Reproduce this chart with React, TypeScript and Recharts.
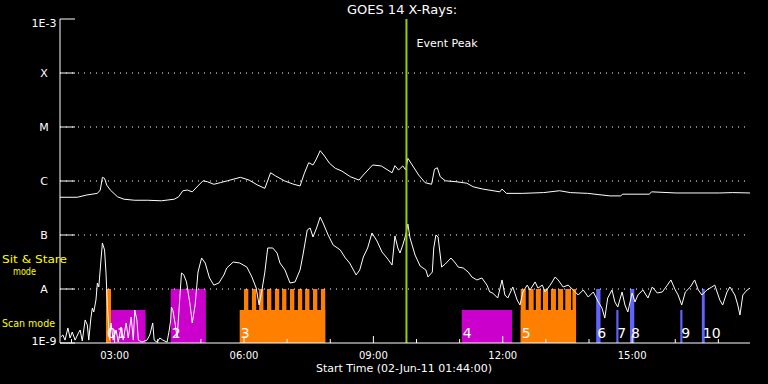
import { ComposedChart, Line, XAxis, YAxis, ReferenceLine, ReferenceArea } from 'recharts';

// GOES 14 long channel (1-8 A), minutes after 01:44 UT, W/m2
const longTimes = [0, 24, 37, 52, 56, 59, 62, 65, 70, 80, 89, 104, 122, 141, 159, 165, 171, 177, 184, 193, 199, 205, 214, 223, 233, 251, 263, 275, 285, 293, 300, 312, 324, 334, 340, 346, 352, 356, 362, 367, 375, 383, 392, 404, 416, 422, 435, 447, 462, 466, 471, 477, 481, 484, 490, 499, 508, 517, 521, 525, 529, 536, 551, 566, 575, 588, 612, 615, 621, 643, 673, 695, 710, 734, 765, 780, 783, 820, 823, 857, 918, 936, 960];
const longFlux = [5.0e-7, 5.0e-7, 5.5e-7, 5.9e-7, 6.8e-7, 1.17e-6, 1.12e-6, 8.4e-7, 6.8e-7, 5.1e-7, 4.6e-7, 4.4e-7, 4.4e-7, 4.3e-7, 4.6e-7, 5.1e-7, 6.6e-7, 6.8e-7, 6.3e-7, 8.4e-7, 1.01e-6, 9.7e-7, 8.7e-7, 9.3e-7, 1.01e-6, 1.17e-6, 1.04e-6, 8.4e-7, 7.3e-7, 1.42e-6, 1.24e-6, 1.01e-6, 8.8e-7, 8.1e-7, 1.39e-6, 2.18e-6, 1.98e-6, 2.45e-6, 3.64e-6, 3.03e-6, 2.13e-6, 1.72e-6, 1.53e-6, 1.2e-6, 1.04e-6, 1.29e-6, 1.98e-6, 1.9e-6, 1.42e-6, 1.92e-6, 1.6e-6, 1.9e-6, 1.6e-6, 2.63e-6, 1.98e-6, 1.29e-6, 9.3e-7, 8.7e-7, 1.65e-6, 1.76e-6, 1.2e-6, 1.01e-6, 9.7e-7, 9.1e-7, 7.8e-7, 7.1e-7, 6.3e-7, 7.1e-7, 5.9e-7, 5.9e-7, 6.1e-7, 6.6e-7, 6.1e-7, 5.9e-7, 5.3e-7, 5.3e-7, 5.7e-7, 5.7e-7, 6.3e-7, 6.0e-7, 6.0e-7, 6.1e-7, 6.0e-7];

// short channel (0.5-4 A)
const shortTimes = [1, 4, 7, 11, 14, 17, 21, 25, 28, 31, 35, 38, 40, 43, 45, 47, 50, 52, 54, 57, 59, 62, 64, 66, 69, 71, 74, 78, 81, 85, 88, 92, 95, 99, 102, 104, 107, 109, 114, 121, 125, 129, 131, 135, 139, 143, 149, 152, 154, 155, 157, 160, 163, 166, 169, 172, 176, 181, 184, 188, 192, 197, 202, 208, 214, 221, 228, 232, 241, 250, 260, 267, 273, 277, 281, 285, 289, 296, 302, 306, 313, 320, 327, 334, 338, 344, 348, 352, 357, 362, 366, 373, 380, 390, 397, 403, 412, 417, 422, 428, 434, 441, 448, 455, 462, 466, 470, 473, 477, 481, 484, 487, 494, 501, 505, 509, 512, 518, 520, 523, 526, 529, 531, 536, 540, 544, 550, 554, 561, 568, 573, 580, 587, 594, 598, 602, 609, 615, 619, 623, 630, 636, 640, 644, 650, 654, 661, 665, 671, 675, 682, 689, 693, 700, 707, 714, 721, 728, 735, 742, 749, 754, 758, 762, 768, 772, 776, 782, 786, 790, 796, 800, 804, 811, 818, 824, 831, 838, 845, 850, 856, 860, 865, 870, 877, 883, 888, 893, 900, 907, 911, 918, 922, 928, 932, 939, 943, 946, 950, 956, 960];
const shortFlux = [1.29e-9, 1.41e-9, 1.13e-9, 1.9e-9, 1.24e-9, 1.6e-9, 1.13e-9, 1.47e-9, 1.74e-9, 1.09e-9, 2.67e-9, 2.15e-9, 1.13e-9, 2.9e-9, 4.45e-9, 3.75e-9, 6.25e-9, 1.29e-8, 1.09e-8, 3.44e-8, 7.1e-8, 5.27e-8, 1.98e-8, 4.64e-9, 1.13e-9, 2.35e-9, 1.13e-9, 1.74e-9, 1.04e-9, 1.98e-9, 1.13e-9, 2.35e-9, 1.24e-9, 3.03e-9, 1.13e-9, 4.08e-9, 2.67e-9, 1.13e-9, 1.04e-9, 1.13e-9, 1.41e-9, 2.35e-9, 1.13e-9, 1.04e-9, 1.24e-9, 1.13e-9, 1.04e-9, 1.74e-9, 2.67e-9, 4.64e-9, 4.08e-9, 2.35e-9, 1.24e-9, 5.0e-9, 1.98e-8, 1.85e-8, 1.35e-8, 5.05e-9, 2.35e-9, 5.05e-9, 2.06e-8, 3.75e-8, 3.03e-8, 1.6e-8, 1.18e-8, 1.29e-8, 1.82e-8, 2.45e-8, 3.16e-8, 3.03e-8, 2.55e-8, 1.67e-8, 1.04e-8, 5.05e-9, 9.6e-9, 2.06e-8, 5.75e-8, 5.75e-8, 4.64e-8, 3.03e-8, 2.25e-8, 1.29e-8, 1.35e-8, 2.25e-8, 4.26e-8, 1.24e-7, 1.35e-7, 9.18e-8, 1.35e-7, 2.15e-7, 1.67e-7, 1.0e-7, 6.53e-8, 5.27e-8, 3.75e-8, 3.03e-8, 1.82e-8, 2.25e-8, 3.91e-8, 5.75e-8, 1.09e-7, 7.74e-8, 4.84e-8, 3.75e-8, 2.78e-8, 9.6e-8, 5.75e-8, 4.64e-8, 6.53e-8, 1.0e-7, 1.6e-7, 8.8e-8, 4.26e-8, 2.67e-8, 2.45e-8, 2.25e-8, 1.67e-8, 2.06e-8, 5.75e-8, 1.0e-7, 9.18e-8, 4.26e-8, 2.55e-8, 2.9e-8, 3.3e-8, 3.75e-8, 3.03e-8, 2.55e-8, 2.45e-8, 2.06e-8, 1.67e-8, 1.47e-8, 1.6e-8, 1.18e-8, 8.8e-9, 8.43e-9, 6.8e-9, 1.47e-8, 7.74e-9, 6.8e-9, 1.09e-8, 6.25e-9, 5.05e-9, 8.8e-9, 1.18e-8, 9.6e-9, 1.35e-8, 1.04e-8, 1.18e-8, 8.8e-9, 1.18e-8, 1.67e-8, 1.47e-8, 1.09e-8, 1.18e-8, 9.6e-9, 7.74e-9, 9.6e-9, 7.1e-9, 8.8e-9, 5.75e-9, 4.45e-9, 2.9e-9, 6.8e-9, 9.6e-9, 5.75e-9, 4.64e-9, 8.8e-9, 5.05e-9, 3.75e-9, 8.43e-9, 5.75e-9, 7.74e-9, 9.6e-9, 6.8e-9, 1.09e-8, 8.43e-9, 8.8e-9, 1.18e-8, 1.47e-8, 9.6e-9, 7.74e-9, 5.05e-9, 8.8e-9, 1.09e-8, 1.47e-8, 9.6e-9, 7.74e-9, 9.6e-9, 1.09e-8, 1.18e-8, 6.25e-9, 5.05e-9, 8.8e-9, 1.09e-8, 7.74e-9, 5.05e-9, 3.3e-9, 7.74e-9, 9.6e-9, 1.04e-8];

// time axis (minutes after 01:44)
const hourTicks = [16, 76, 136, 196, 256, 316, 376, 436, 496, 556, 616, 676, 736, 796, 856, 916];
const majorTicks = [76, 256, 436, 616, 796];
const majorLabels = ['03:00', '06:00', '09:00', '12:00', '15:00'];

const fluxTicks = [1e-9, 1e-8, 1e-7, 1e-6, 1e-5, 1e-4, 1e-3];
const fluxLabels = ['1E-9', 'A', 'B', 'C', 'M', 'X', '1E-3'];
const classLevels = [1e-8, 1e-7, 1e-6, 1e-5, 1e-4];

const eventPeak = 482;

// EIS observations
const obsLabels = ['0', '1', '2', '3', '4', '5', '6', '7', '8', '9', '10'];
const obsStart = [64, 71, 154, 250, 559, 641, 746, 774, 793, 863, 893];
const obsEnd = [71, 119, 203, 369, 629, 718, 752, 777, 799, 866, 897];
const obsMode = ['stare', 'scan', 'stare', 'scan', 'scan', 'scan', 'stare', 'scan', 'stare', 'scan', 'stare'];
const obsStudy = ['b', 'a', 'a', 'b', 'a', 'b', 'c', 'c', 'c', 'c', 'c'];

// sit & stare slots inside rasters 3 and 5
const slotStart = [256, 267, 277, 288, 299, 309, 320, 331, 341, 352, 363, 641, 652, 662, 672, 683, 693, 703, 713];
const slotEnd = [262, 273, 283, 294, 305, 315, 326, 337, 347, 358, 369, 648, 659, 669, 679, 690, 700, 711, 718];

const studyColors: Record<string, string> = { a: '#cc00cc', b: '#ff8000', c: '#6262ff' };
const STARE_TOP = 1e-8;
const SCAN_TOP = 4.1e-9;
const FONT = '"DejaVu Sans", sans-serif';

const BottomTick = (p: any) => {
  const i = majorTicks.indexOf(p.payload.value);
  return (
    <g>
      <line x1={p.x} x2={p.x} y1={p.y} y2={p.y - (i >= 0 ? 7 : 4)} stroke="#fff" />
      {i >= 0 && (
        <text x={p.x} y={p.y + 16} textAnchor="middle" fill="#fff" fontSize={10} fontFamily={FONT}>
          {majorLabels[i]}
        </text>
      )}
    </g>
  );
};

const TopTick = (p: any) => {
  const major = majorTicks.includes(p.payload.value);
  return <line x1={p.x} x2={p.x} y1={p.y} y2={p.y + (major ? 7 : 4)} stroke="#fff" />;
};

const LeftTick = (p: any) => {
  const i = fluxTicks.indexOf(p.payload.value);
  // end labels sit inside the frame
  const dy = i === fluxTicks.length - 1 ? 8 : i === 0 ? 2 : 4;
  return (
    <g>
      <line x1={p.x} x2={p.x + 15} y1={p.y} y2={p.y} stroke="#fff" />
      <text x={p.x - 16} y={p.y + dy} textAnchor="middle" fill="#fff" fontSize={11} fontFamily={FONT}>
        {fluxLabels[i]}
      </text>
    </g>
  );
};

const RightTick = (p: any) => <line x1={p.x} x2={p.x - 14} y1={p.y} y2={p.y} stroke="#fff" />;

export default function App() {
  const longData = longTimes.map((m, i) => ({ m, flux: longFlux[i] }));
  const shortData = shortTimes.map((m, i) => ({ m, flux: shortFlux[i] }));

  return (
    <div style={{ position: 'absolute', left: 0, top: 0, width: 768, height: 384, background: '#000', overflow: 'hidden' }}>
      <ComposedChart width={768} height={384} margin={{ top: 19, right: 18, bottom: 0, left: 0 }}>
        <XAxis
          type="number"
          dataKey="m"
          domain={[0, 960]}
          ticks={hourTicks}
          interval={0}
          height={41}
          tickSize={0}
          tickMargin={0}
          tickLine={false}
          axisLine={{ stroke: '#fff' }}
          tick={(p: any) => <BottomTick {...p} />}
          allowDataOverflow
        />
        <XAxis
          xAxisId="top"
          orientation="top"
          type="number"
          dataKey="m"
          domain={[0, 960]}
          ticks={hourTicks}
          interval={0}
          height={0}
          tickSize={0}
          tickMargin={0}
          tickLine={false}
          axisLine={{ stroke: '#fff' }}
          tick={(p: any) => <TopTick {...p} />}
          allowDataOverflow
        />
        <YAxis
          scale="log"
          type="number"
          domain={[1e-9, 1e-3]}
          ticks={fluxTicks}
          interval={0}
          width={60}
          tickSize={0}
          tickMargin={0}
          tickLine={false}
          axisLine={{ stroke: '#fff' }}
          tick={(p: any) => <LeftTick {...p} />}
          allowDataOverflow
        />
        <YAxis
          yAxisId="r"
          orientation="right"
          scale="log"
          type="number"
          domain={[1e-9, 1e-3]}
          ticks={fluxTicks}
          interval={0}
          width={0}
          tickSize={0}
          tickMargin={0}
          tickLine={false}
          axisLine={{ stroke: '#fff' }}
          tick={(p: any) => <RightTick {...p} />}
          allowDataOverflow
        />

        {obsStart.map((s, i) => (
          <ReferenceArea
            key={'obs' + i}
            x1={s}
            x2={obsEnd[i]}
            y1={1e-9}
            y2={obsMode[i] === 'stare' ? STARE_TOP : SCAN_TOP}
            fill={studyColors[obsStudy[i]]}
            fillOpacity={1}
            stroke="none"
            ifOverflow="visible"
          />
        ))}
        {slotStart.map((s, i) => (
          <ReferenceArea
            key={'slot' + i}
            x1={s}
            x2={slotEnd[i]}
            y1={1e-9}
            y2={STARE_TOP}
            fill={studyColors.b}
            fillOpacity={1}
            stroke="none"
            ifOverflow="visible"
          />
        ))}

        {classLevels.map((v) => (
          <ReferenceLine key={v} y={v} stroke="#fff" strokeDasharray="1 5" />
        ))}

        <Line data={longData} dataKey="flux" type="linear" stroke="#fff" strokeWidth={1} dot={false} isAnimationActive={false} />
        <Line data={shortData} dataKey="flux" type="linear" stroke="#fff" strokeWidth={1} dot={false} isAnimationActive={false} />

        {obsStart.map((s, i) => (
          <ReferenceArea
            key={'lab' + i}
            x1={s}
            x2={obsEnd[i]}
            y1={1e-9}
            y2={SCAN_TOP}
            fill="none"
            stroke="none"
            ifOverflow="visible"
            label={(lp: any) => {
              // keep a label clear of the one just before it
              const prevClose = i > 0 && s - obsEnd[i - 1] < 10 && obsStart[i] - obsStart[i - 1] < 10;
              return (
                <text
                  x={lp.viewBox.x + (prevClose ? 6 : 1)}
                  y={lp.viewBox.y + lp.viewBox.height - 5}
                  fill="#fff"
                  fontSize={14}
                  fontFamily={FONT}
                >
                  {obsLabels[i]}
                </text>
              );
            }}
          />
        ))}

        <ReferenceLine
          x={eventPeak}
          stroke="#9acd00"
          strokeWidth={2}
          label={(lp: any) => (
            <text x={lp.viewBox.x + 10} y={lp.viewBox.y + 28} fill="#fff" fontSize={11} fontFamily={FONT}>
              Event Peak
            </text>
          )}
        />
      </ComposedChart>

      <svg width={768} height={384} style={{ position: 'absolute', left: 0, top: 0, pointerEvents: 'none' }}>
        <text x={402} y={14} textAnchor="middle" fill="#fff" fontSize={13} fontFamily={FONT}>
          GOES 14 X-Rays:
        </text>
        <text x={404} y={372} textAnchor="middle" fill="#fff" fontSize={11} fontFamily={FONT}>
          Start Time (02-Jun-11 01:44:00)
        </text>
        <text x={2} y={263} fill="#ffff00" fontSize={11} fontFamily={FONT} textLength={65} lengthAdjust="spacingAndGlyphs">
          Sit &amp; Stare
        </text>
        <text x={13} y={275} fill="#ffff00" fontSize={11} fontFamily={FONT} textLength={23} lengthAdjust="spacingAndGlyphs">
          mode
        </text>
        <text x={2} y={327} fill="#ffff00" fontSize={11} fontFamily={FONT} textLength={53} lengthAdjust="spacingAndGlyphs">
          Scan mode
        </text>
      </svg>
    </div>
  );
}
